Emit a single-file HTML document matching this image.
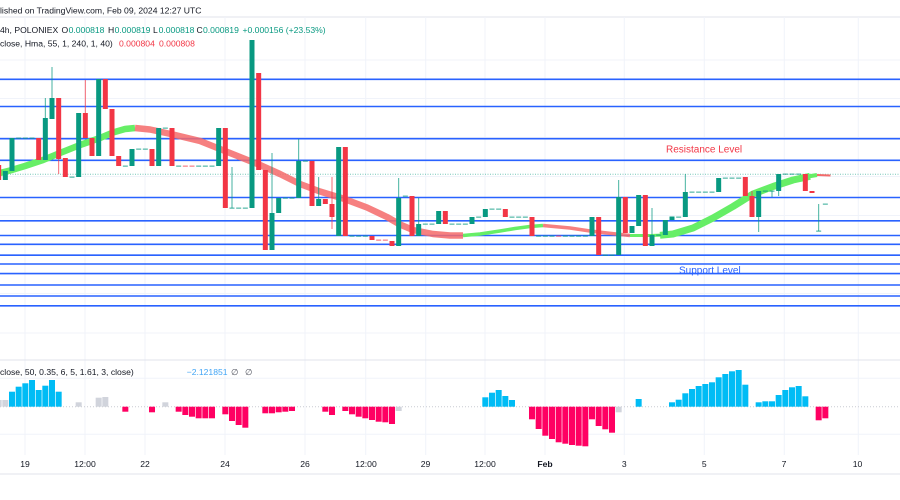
<!DOCTYPE html>
<html>
<head>
<meta charset="utf-8">
<style>
html,body{margin:0;padding:0;background:#fff;}
body{width:900px;height:500px;overflow:hidden;}
svg{display:block;font-family:"Liberation Sans",sans-serif;}
.g{fill:#089981}
.r{fill:#f23645}
.dg{fill:#089981;opacity:.65}
.dr{fill:#f23645;opacity:.6}
.wg{stroke:#089981;stroke-width:1;opacity:.75}
.wr{stroke:#f23645;stroke-width:1;opacity:.75}
.bl{stroke:#2962ff;stroke-width:1.6}
.hb{fill:#00bcf5}
.hr{fill:#ff0062}
.hg{fill:#d1d4dc}
.t{font-size:8.6px;fill:#131722}
</style>
</head>
<body>
<svg width="900" height="500" viewBox="0 0 900 500" xmlns="http://www.w3.org/2000/svg">
<rect width="900" height="500" fill="#fff"/>
<text class="t" x="0" y="13.7">lished on TradingView.com, Feb 09, 2024 12:27 UTC</text>
<line x1="0" y1="17" x2="900" y2="17" stroke="#e0e3eb" stroke-width="1"/>

<g stroke="#f0f3fa" stroke-width="1">
<line x1="25" y1="17" x2="25" y2="455"/>
<line x1="85" y1="17" x2="85" y2="455"/>
<line x1="145" y1="17" x2="145" y2="455"/>
<line x1="225" y1="17" x2="225" y2="455"/>
<line x1="305" y1="17" x2="305" y2="455"/>
<line x1="365.7" y1="17" x2="365.7" y2="455"/>
<line x1="425.7" y1="17" x2="425.7" y2="455"/>
<line x1="485" y1="17" x2="485" y2="455"/>
<line x1="545" y1="17" x2="545" y2="455"/>
<line x1="624.3" y1="17" x2="624.3" y2="455"/>
<line x1="704.3" y1="17" x2="704.3" y2="455"/>
<line x1="784.3" y1="17" x2="784.3" y2="455"/>
<line x1="858.3" y1="17" x2="858.3" y2="455"/>
<line x1="0" y1="60" x2="900" y2="60"/>
<line x1="0" y1="98.5" x2="900" y2="98.5"/>
<line x1="0" y1="137.5" x2="900" y2="137.5"/>
<line x1="0" y1="176.5" x2="900" y2="176.5"/>
<line x1="0" y1="215.5" x2="900" y2="215.5"/>
<line x1="0" y1="254.5" x2="900" y2="254.5"/>
<line x1="0" y1="293.5" x2="900" y2="293.5"/>
<line x1="0" y1="333" x2="900" y2="333"/>
<line x1="0" y1="378.3" x2="900" y2="378.3"/>
<line x1="0" y1="434.3" x2="900" y2="434.3"/>
</g>

<g class="bl">
<line x1="0" y1="79.3" x2="900" y2="79.3"/>
<line x1="0" y1="106.5" x2="900" y2="106.5"/>
<line x1="0" y1="138.7" x2="900" y2="138.7"/>
<line x1="0" y1="160.3" x2="900" y2="160.3"/>
<line x1="0" y1="197.5" x2="900" y2="197.5"/>
<line x1="0" y1="220.8" x2="900" y2="220.8"/>
<line x1="0" y1="235.5" x2="900" y2="235.5"/>
<line x1="0" y1="244.3" x2="900" y2="244.3"/>
<line x1="0" y1="255.2" x2="900" y2="255.2"/>
<line x1="0" y1="264" x2="900" y2="264"/>
<line x1="0" y1="273.6" x2="900" y2="273.6"/>
<line x1="0" y1="285" x2="900" y2="285"/>
<line x1="0" y1="296" x2="900" y2="296"/>
<line x1="0" y1="305.8" x2="900" y2="305.8"/>
</g>

<line x1="0" y1="174.2" x2="900" y2="174.2" stroke="#089981" stroke-opacity=".55" stroke-width="1" stroke-dasharray="1 1.5"/>

<g fill="none" stroke-linejoin="round">
<polyline stroke="#66ee66" stroke-width="6.5" points="0,173 10,170.5 25,166 43,160 60,153 80,145 100,138 113,132.5 125,129 135,128"/>
<polyline stroke="#f56a6a" stroke-opacity=".85" stroke-width="6.5" points="135,128 150,129.5 173,134.5 200,141 220,149 240,157 260,165 280,174 300,184 320,191.5 343,198.5 367,207.5 387,217 400,224.5 413,230 433,234 450,235.5 463,235.5"/>
<polyline stroke="#66ee66" stroke-width="3.5" points="463,235.5 480,234 500,231 515,228.5 530,226.5 543,225.5"/>
<polyline stroke="#f56a6a" stroke-opacity=".85" stroke-width="3.5" points="543,225.5 570,228 590,231 607,233 630,235.5"/>
<polyline stroke="#66ee66" stroke-width="3" points="630,235.5 650,235.5 665,235"/>
<polyline stroke="#66ee66" stroke-width="7" points="660,235.3 673,234 693,228 713,218 733,206.5 753,194 773,186.5 793,180 810,176.3"/>
<polyline stroke="#66ee66" stroke-width="4" points="805,177 817,175"/>
<polyline stroke="#f56a6a" stroke-width="2" points="817,175 830.5,175.5"/>
</g>

<g>
<line class="wg" x1="45.33" y1="98" x2="45.33" y2="118"/>
<line class="wg" x1="52" y1="67" x2="52" y2="98"/>
<line class="wr" x1="58.67" y1="159" x2="58.67" y2="174"/>
<line class="wr" x1="85.33" y1="80" x2="85.33" y2="113"/>
<line class="wg" x1="232" y1="167" x2="232" y2="208"/>
<line class="wg" x1="272" y1="153" x2="272" y2="213"/>
<line class="wg" x1="298.67" y1="139" x2="298.67" y2="161"/>
<line class="wg" x1="318.67" y1="177" x2="318.67" y2="199"/>
<line class="wr" x1="332" y1="177" x2="332" y2="229"/>
<line class="wg" x1="398.67" y1="178" x2="398.67" y2="198"/>
<line class="wg" x1="418.67" y1="198" x2="418.67" y2="224"/>
<line class="wg" x1="618.67" y1="180" x2="618.67" y2="197"/>
<line class="wg" x1="652" y1="208" x2="652" y2="235"/>
<line class="wg" x1="685.33" y1="174" x2="685.33" y2="192"/>
<line class="wr" x1="752" y1="191" x2="752" y2="196"/>
<line class="wg" x1="758.67" y1="217" x2="758.67" y2="232"/>
<line class="wg" x1="772" y1="191" x2="772" y2="197"/>
<line class="wg" x1="778.67" y1="191" x2="778.67" y2="196"/>
<line class="wg" x1="818.67" y1="204" x2="818.67" y2="231"/>
</g>

<g class="g">
<rect x="2.83" y="171" width="5" height="9"/>
<rect x="9.5" y="138" width="5" height="33"/>
<rect x="42.83" y="118" width="5" height="42"/>
<rect x="49.5" y="98" width="5" height="21"/>
<rect x="76.17" y="113" width="5" height="64"/>
<rect x="96.17" y="79" width="5" height="77"/>
<rect x="129.5" y="149" width="5" height="17"/>
<rect x="156.17" y="128" width="5" height="38"/>
<rect x="216.17" y="128" width="5" height="38"/>
<rect x="249.5" y="40" width="5" height="168"/>
<rect x="269.5" y="213" width="5" height="37"/>
<rect x="276.17" y="198" width="5" height="15"/>
<rect x="296.17" y="161" width="5" height="37"/>
<rect x="316.17" y="199" width="5" height="7"/>
<rect x="336.17" y="147" width="5" height="89"/>
<rect x="396.17" y="198" width="5" height="48"/>
<rect x="416.17" y="224" width="5" height="12"/>
<rect x="436.17" y="211" width="5" height="13"/>
<rect x="469.5" y="217" width="5" height="7"/>
<rect x="482.83" y="209" width="5" height="8"/>
<rect x="589.5" y="217" width="5" height="19"/>
<rect x="616.17" y="197" width="5" height="58"/>
<rect x="629.5" y="226" width="5" height="7"/>
<rect x="636.17" y="195" width="5" height="31"/>
<rect x="649.5" y="235" width="5" height="11"/>
<rect x="662.83" y="220" width="5" height="15"/>
<rect x="669.5" y="216.5" width="5" height="3.5"/>
<rect x="682.83" y="192" width="5" height="25"/>
<rect x="716.17" y="178" width="5" height="14"/>
<rect x="756.17" y="191" width="5" height="26"/>
<rect x="776.17" y="174" width="5" height="17"/>
</g>

<g class="r">
<rect x="-3.83" y="165" width="5" height="15"/>
<rect x="36.17" y="138" width="5" height="22"/>
<rect x="56.17" y="98" width="5" height="61"/>
<rect x="62.83" y="158" width="5" height="19"/>
<rect x="82.83" y="113" width="5" height="25"/>
<rect x="89.5" y="138" width="5" height="18"/>
<rect x="102.83" y="79" width="5" height="30"/>
<rect x="109.5" y="109" width="5" height="47"/>
<rect x="116.17" y="156" width="5" height="10"/>
<rect x="149.5" y="149" width="5" height="17"/>
<rect x="169.5" y="128" width="5" height="38"/>
<rect x="222.83" y="128" width="5" height="80"/>
<rect x="256.17" y="73" width="5" height="97"/>
<rect x="262.83" y="170" width="5" height="80"/>
<rect x="309.5" y="161" width="5" height="45"/>
<rect x="322.83" y="199" width="5" height="5"/>
<rect x="329.5" y="204" width="5" height="13"/>
<rect x="342.83" y="147" width="5" height="89"/>
<rect x="369.5" y="236" width="5" height="4"/>
<rect x="389.5" y="241" width="5" height="5"/>
<rect x="409.5" y="196" width="5" height="40"/>
<rect x="442.83" y="211" width="5" height="13"/>
<rect x="502.83" y="209" width="5" height="8"/>
<rect x="529.5" y="217" width="5" height="19"/>
<rect x="596.17" y="217" width="5" height="38"/>
<rect x="622.83" y="197" width="5" height="36"/>
<rect x="642.83" y="195" width="5" height="51"/>
<rect x="742.83" y="177" width="5" height="19"/>
<rect x="749.5" y="196" width="5" height="21"/>
<rect x="802.83" y="174" width="5" height="17"/>
<rect x="809.5" y="191" width="5" height="2"/>
</g>

<g class="dg">
<rect x="16.17" y="137.5" width="5" height="1.3"/>
<rect x="22.83" y="137.5" width="5" height="1.3"/>
<rect x="29.5" y="137.5" width="5" height="1.3"/>
<rect x="69.5" y="176.5" width="5" height="1.3"/>
<rect x="122.83" y="165.5" width="5" height="1.3"/>
<rect x="136.17" y="148.5" width="5" height="1.3"/>
<rect x="142.83" y="148.5" width="5" height="1.3"/>
<rect x="162.83" y="127.5" width="5" height="1.3"/>
<rect x="176.17" y="165.5" width="5" height="1.3"/>
<rect x="196.17" y="165.5" width="5" height="1.3"/>
<rect x="202.83" y="165.5" width="5" height="1.3"/>
<rect x="209.5" y="165.5" width="5" height="1.3"/>
<rect x="229.5" y="207.5" width="5" height="1.3"/>
<rect x="236.17" y="207.5" width="5" height="1.3"/>
<rect x="242.83" y="207.5" width="5" height="1.3"/>
<rect x="282.83" y="197.5" width="5" height="1.3"/>
<rect x="289.5" y="197.5" width="5" height="1.3"/>
<rect x="302.83" y="160.5" width="5" height="1.3"/>
<rect x="349.5" y="235.5" width="5" height="1.3"/>
<rect x="356.17" y="235.5" width="5" height="1.3"/>
<rect x="362.83" y="235.5" width="5" height="1.3"/>
<rect x="402.83" y="195.5" width="5" height="1.3"/>
<rect x="422.83" y="223.5" width="5" height="1.3"/>
<rect x="429.5" y="223.5" width="5" height="1.3"/>
<rect x="449.5" y="223.5" width="5" height="1.3"/>
<rect x="456.17" y="223.5" width="5" height="1.3"/>
<rect x="462.83" y="223.5" width="5" height="1.3"/>
<rect x="476.17" y="216.5" width="5" height="1.3"/>
<rect x="489.5" y="208.5" width="5" height="1.3"/>
<rect x="496.17" y="208.5" width="5" height="1.3"/>
<rect x="509.5" y="216.5" width="5" height="1.3"/>
<rect x="516.17" y="216.5" width="5" height="1.3"/>
<rect x="522.83" y="216.5" width="5" height="1.3"/>
<rect x="536.17" y="235.5" width="5" height="1.3"/>
<rect x="542.83" y="235.5" width="5" height="1.3"/>
<rect x="549.5" y="235.5" width="5" height="1.3"/>
<rect x="562.83" y="235.5" width="5" height="1.3"/>
<rect x="569.5" y="235.5" width="5" height="1.3"/>
<rect x="576.17" y="235.5" width="5" height="1.3"/>
<rect x="582.83" y="235.5" width="5" height="1.3"/>
<rect x="602.83" y="254.5" width="5" height="1.3"/>
<rect x="609.5" y="254.5" width="5" height="1.3"/>
<rect x="656.17" y="234.5" width="5" height="1.3"/>
<rect x="676.17" y="216.5" width="5" height="1.3"/>
<rect x="689.5" y="191.5" width="5" height="1.3"/>
<rect x="696.17" y="191.5" width="5" height="1.3"/>
<rect x="702.83" y="191.5" width="5" height="1.3"/>
<rect x="709.5" y="191.5" width="5" height="1.3"/>
<rect x="722.83" y="177.5" width="5" height="1.3"/>
<rect x="729.5" y="177.5" width="5" height="1.3"/>
<rect x="736.17" y="177.5" width="5" height="1.3"/>
<rect x="762.83" y="190.5" width="5" height="1.3"/>
<rect x="769.5" y="190.5" width="5" height="1.3"/>
<rect x="782.83" y="173.5" width="5" height="1.3"/>
<rect x="789.5" y="173.5" width="5" height="1.3"/>
<rect x="796.17" y="173.5" width="5" height="1.3"/>
<rect x="816.17" y="230.5" width="5" height="1.3"/>
<rect x="822.83" y="203.5" width="5" height="1.3"/>
</g>
<g class="dr">
<rect x="182.83" y="165.5" width="5" height="1.3"/>
<rect x="189.5" y="165.5" width="5" height="1.3"/>
<rect x="376.17" y="239.5" width="5" height="1.3"/>
<rect x="382.83" y="239.5" width="5" height="1.3"/>
<rect x="556.17" y="235.5" width="5" height="1.3"/>
</g>

<text x="666" y="152.6" font-size="10" fill="#f23645">Resistance Level</text>
<text x="679" y="273.4" font-size="10" fill="#2962ff">Support Level</text>

<text class="t" y="33.2"><tspan x="0">4h, POLONIEX</tspan><tspan x="61.5">O</tspan><tspan x="68.6" fill="#089981">0.000818</tspan><tspan x="108">H</tspan><tspan x="114.6" fill="#089981">0.000819</tspan><tspan x="153">L</tspan><tspan x="158.6" fill="#089981">0.000818</tspan><tspan x="196.5">C</tspan><tspan x="203" fill="#089981">0.000819</tspan><tspan x="242.5" fill="#089981">+0.000156 (+23.53%)</tspan></text>
<text class="t" y="46.4"><tspan x="0">close, Hma, 55, 1, 240, 1, 40)</tspan><tspan x="119" fill="#f23645">0.000804</tspan><tspan x="159" fill="#f23645">0.000808</tspan></text>

<line x1="0" y1="360" x2="900" y2="360" stroke="#e0e3eb" stroke-width="1"/>

<line x1="0" y1="406.7" x2="900" y2="406.7" stroke="#c9cbd2" stroke-width="1" stroke-dasharray="1 2"/>
<g class="hg">
<rect x="-4.33" y="400" width="6" height="6.7"/>
<rect x="2.33" y="400" width="6" height="6.7"/>
<rect x="75.67" y="402.3" width="6" height="4.4"/>
<rect x="95.67" y="397.7" width="6" height="9"/>
<rect x="102.33" y="397" width="6" height="9.7"/>
<rect x="162.33" y="402.3" width="6" height="4.4"/>
<rect x="395.67" y="406.7" width="6" height="4.3"/>
<rect x="615.67" y="406.7" width="6" height="5.6"/>
</g>
<g class="hb">
<rect x="9" y="391.7" width="6" height="15"/>
<rect x="15.67" y="386.7" width="6" height="20"/>
<rect x="22.33" y="383.3" width="6" height="23.4"/>
<rect x="29" y="380" width="6" height="26.7"/>
<rect x="35.67" y="390" width="6" height="16.7"/>
<rect x="42.33" y="385.7" width="6" height="21"/>
<rect x="49" y="380" width="6" height="26.7"/>
<rect x="55.67" y="391.7" width="6" height="15"/>
<rect x="482.33" y="397.3" width="6" height="9.4"/>
<rect x="489" y="392.7" width="6" height="14"/>
<rect x="495.67" y="390" width="6" height="16.7"/>
<rect x="502.33" y="396" width="6" height="10.7"/>
<rect x="509" y="400" width="6" height="6.7"/>
<rect x="635.67" y="399" width="6" height="7.7"/>
<rect x="669" y="402.3" width="6" height="4.4"/>
<rect x="675.67" y="399.7" width="6" height="7"/>
<rect x="682.33" y="393.3" width="6" height="13.4"/>
<rect x="689" y="389" width="6" height="17.7"/>
<rect x="695.67" y="386" width="6" height="20.7"/>
<rect x="702.33" y="384" width="6" height="22.7"/>
<rect x="709" y="382.3" width="6" height="24.4"/>
<rect x="715.67" y="377.3" width="6" height="29.4"/>
<rect x="722.33" y="374" width="6" height="32.7"/>
<rect x="729" y="371.3" width="6" height="35.4"/>
<rect x="735.67" y="370" width="6" height="36.7"/>
<rect x="742.33" y="384.7" width="6" height="22"/>
<rect x="755.67" y="402.3" width="6" height="4.4"/>
<rect x="762.33" y="401.3" width="6" height="5.4"/>
<rect x="769" y="401.3" width="6" height="5.4"/>
<rect x="775.67" y="395" width="6" height="11.7"/>
<rect x="782.33" y="390" width="6" height="16.7"/>
<rect x="789" y="387.3" width="6" height="19.4"/>
<rect x="795.67" y="386" width="6" height="20.7"/>
<rect x="802.33" y="396.3" width="6" height="10.4"/>
</g>
<g class="hr">
<rect x="122.33" y="406.7" width="6" height="5"/>
<rect x="149" y="406.7" width="6" height="5.6"/>
<rect x="175.67" y="406.7" width="6" height="5"/>
<rect x="182.33" y="406.7" width="6" height="8.3"/>
<rect x="189" y="406.7" width="6" height="10"/>
<rect x="195.67" y="406.7" width="6" height="11.6"/>
<rect x="202.33" y="406.7" width="6" height="11.6"/>
<rect x="209" y="406.7" width="6" height="11.6"/>
<rect x="222.33" y="406.7" width="6" height="7.6"/>
<rect x="229" y="406.7" width="6" height="14.3"/>
<rect x="235.67" y="406.7" width="6" height="18.3"/>
<rect x="242.33" y="406.7" width="6" height="21"/>
<rect x="262.33" y="406.7" width="6" height="6.6"/>
<rect x="269" y="406.7" width="6" height="6.6"/>
<rect x="275.67" y="406.7" width="6" height="5.6"/>
<rect x="282.33" y="406.7" width="6" height="5"/>
<rect x="289" y="406.7" width="6" height="4.3"/>
<rect x="322.33" y="406.7" width="6" height="5"/>
<rect x="329" y="406.7" width="6" height="8.3"/>
<rect x="342.33" y="406.7" width="6" height="4.3"/>
<rect x="349" y="406.7" width="6" height="7.6"/>
<rect x="355.67" y="406.7" width="6" height="10"/>
<rect x="362.33" y="406.7" width="6" height="11.6"/>
<rect x="369" y="406.7" width="6" height="13.3"/>
<rect x="375.67" y="406.7" width="6" height="15"/>
<rect x="382.33" y="406.7" width="6" height="15.6"/>
<rect x="389" y="406.7" width="6" height="17.3"/>
<rect x="529" y="406.7" width="6" height="12.6"/>
<rect x="535.67" y="406.7" width="6" height="22.3"/>
<rect x="542.33" y="406.7" width="6" height="29"/>
<rect x="549" y="406.7" width="6" height="32.3"/>
<rect x="555.67" y="406.7" width="6" height="35.6"/>
<rect x="562.33" y="406.7" width="6" height="37"/>
<rect x="569" y="406.7" width="6" height="38.3"/>
<rect x="575.67" y="406.7" width="6" height="39"/>
<rect x="582.33" y="406.7" width="6" height="39.6"/>
<rect x="589" y="406.7" width="6" height="12.6"/>
<rect x="595.67" y="406.7" width="6" height="19.3"/>
<rect x="602.33" y="406.7" width="6" height="22.6"/>
<rect x="609" y="406.7" width="6" height="26"/>
<rect x="815.67" y="406.7" width="6" height="13.6"/>
<rect x="822.33" y="406.7" width="6" height="11.6"/>
</g>

<text class="t" y="374.8"><tspan x="0">close, 50, 0.35, 6, 5, 1.61, 3, close)</tspan><tspan x="186.7" fill="#42a5f5">−2.121851</tspan><tspan x="231" fill="#50535e">∅</tspan><tspan x="245" fill="#50535e">∅</tspan></text>

<g class="t" text-anchor="middle">
<text x="25" y="467.2">19</text>
<text x="85" y="467.2">12:00</text>
<text x="145" y="467.2">22</text>
<text x="225" y="467.2">24</text>
<text x="305" y="467.2">26</text>
<text x="366" y="467.2">12:00</text>
<text x="425.5" y="467.2">29</text>
<text x="485" y="467.2">12:00</text>
<text x="545" y="467.2" font-weight="bold">Feb</text>
<text x="624.3" y="467.2">3</text>
<text x="704.3" y="467.2">5</text>
<text x="784" y="467.2">7</text>
<text x="857.5" y="467.2">10</text>
</g>
<line x1="0" y1="474" x2="900" y2="474" stroke="#e0e3eb" stroke-width="1"/>
</svg>
</body>
</html>
